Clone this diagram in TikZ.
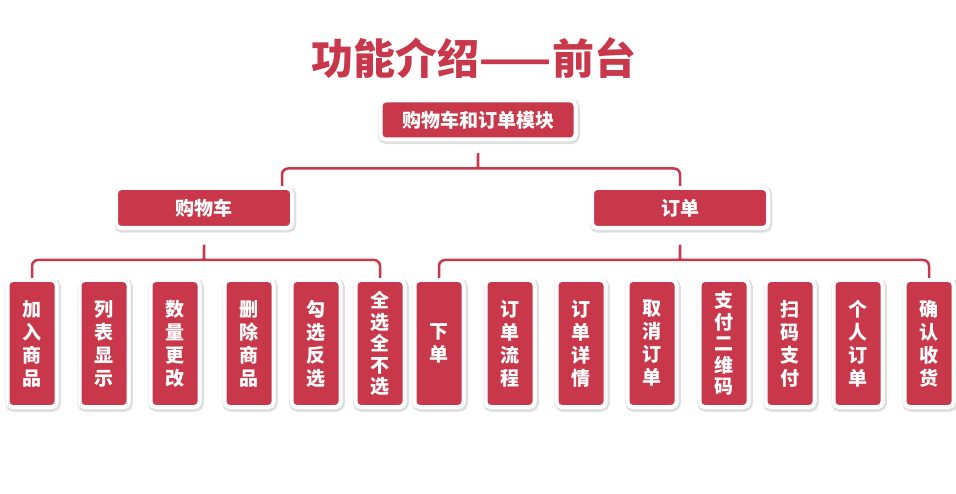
\documentclass[tikz,border=0pt]{standalone}
\usepackage{fontspec}
\setmainfont{Noto Sans CJK SC}
\usetikzlibrary{shadows}
\definecolor{boxred}{HTML}{C8384A}
\begin{document}
\begin{tikzpicture}[
    x=1pt, y=-1pt,
    box/.style={rectangle, draw=white, line width=4pt, fill=boxred, rounded corners=5pt,
        inner sep=0pt, text=white, align=center,
        font=\bfseries\fontsize{19}{23}\selectfont,
        drop shadow={shadow xshift=1pt, shadow yshift=-1.5pt, fill=black!25, draw=black!25, line width=6.5pt}},
    leaf/.style={box, minimum width=49, minimum height=127},
    group/.style={box, minimum width=176, minimum height=40},
    brace/.style={draw=boxred, line width=2.5pt, rounded corners=6pt}
]
    \useasboundingbox (0,0) rectangle (956,494);

    % Title
    \node[text=boxred, font=\bfseries\fontsize{42}{46}\selectfont] (title) at (474,58) {功能介绍——前台};

    % Top node
    \node[box, minimum width=195, minimum height=39] (module) at (478,120) {购物车和订单模块};

    % Middle layer
    \node[group] (cart) at (204,208) {购物车};
    \node[group] (order) at (680,208) {订单};

    % Bottom layer: cart functions
    \node[leaf] (jia) at (32,343.5) {加\\入\\商\\品};
    \node[leaf] (lie) at (104,343.5) {列\\表\\显\\示};
    \node[leaf] (shu) at (175,343.5) {数\\量\\更\\改};
    \node[leaf] (shan) at (249,343.5) {删\\除\\商\\品};
    \node[leaf] (gou) at (316,343.5) {勾\\选\\反\\选};
    \node[leaf, font=\bfseries\fontsize{19}{21.5}\selectfont] (quan) at (380,343.5) {全\\选\\全\\不\\选};

    % Bottom layer: order functions
    \node[leaf] (xia) at (439,343.5) {下\\单};
    \node[leaf] (liu) at (510,343.5) {订\\单\\流\\程};
    \node[leaf] (xiang) at (581,343.5) {订\\单\\详\\情};
    \node[leaf] (qu) at (652,343.5) {取\\消\\订\\单};
    \node[leaf, font=\bfseries\fontsize{19}{21.5}\selectfont] (zhi) at (724,343.5) {支\\付\\二\\维\\码};
    \node[leaf] (sao) at (790,343.5) {扫\\码\\支\\付};
    \node[leaf] (ge) at (858,343.5) {个\\人\\订\\单};
    \node[leaf] (que) at (929,343.5) {确\\认\\收\\货};

    % Brace from module to groups
    \draw[brace] ([xshift=-12pt]cart.north east) |- ([xshift=-7pt,yshift=-27pt]module.south)
        to[out=0,in=-90] ([yshift=-8pt]module.south)
        to[out=-90,in=180] ([xshift=7pt,yshift=-27pt]module.south) -| (order.north);

    % Brace from cart to its functions
    \draw[brace] (jia.north) |- ([xshift=-7pt,yshift=-30pt]cart.south)
        to[out=0,in=-90] ([yshift=-11pt]cart.south)
        to[out=-90,in=180] ([xshift=7pt,yshift=-30pt]cart.south) -| (quan.north);

    % Brace from order to its functions
    \draw[brace] (xia.north) |- ([xshift=-7pt,yshift=-30pt]order.south)
        to[out=0,in=-90] ([yshift=-11pt]order.south)
        to[out=-90,in=180] ([xshift=7pt,yshift=-30pt]order.south) -| (que.north);
\end{tikzpicture}
\end{document}
